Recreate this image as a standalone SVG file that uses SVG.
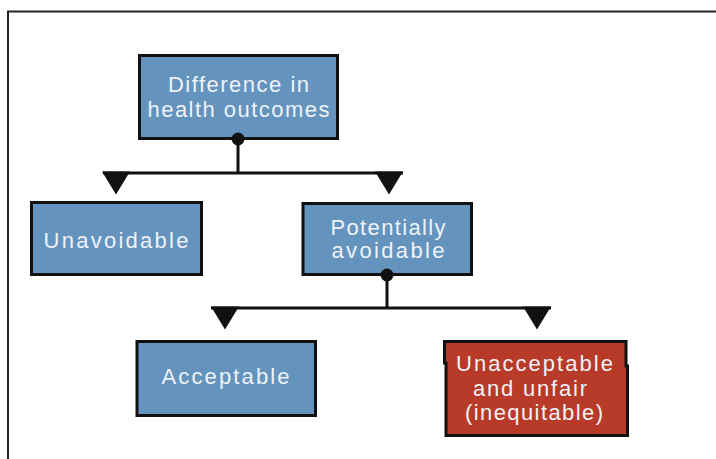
<svg xmlns="http://www.w3.org/2000/svg" width="716" height="459" viewBox="0 0 716 459">
  <style>
    .box { fill: #6494be; stroke: #111; stroke-width: 3; }
    .red { fill: #b83b2a; stroke: #111; stroke-width: 3; }
    .lbl { font-family: "Liberation Sans", Arial, sans-serif; font-size: 22px; fill: #eef2f6; text-anchor: middle; }
    .line { stroke: #111; stroke-width: 3; fill: none; }
    .tri { fill: #111; }
    .dot { fill: #111; }
  </style>
  <defs>
    <polygon id="tri" points="-14,0 14,0 0,23"/>
  </defs>
  <rect width="716" height="459" fill="#fff"/>
  <path d="M716,11.5 H8 V459" fill="none" stroke="#222" stroke-width="2"/>

  <g id="difference">
    <rect class="box" x="139.5" y="55.5" width="198" height="83"/>
    <text class="lbl" x="238.5" y="92" textLength="141" lengthAdjust="spacing">Difference in</text>
    <text class="lbl" x="238.5" y="117" textLength="182" lengthAdjust="spacing">health outcomes</text>
  </g>

  <g id="unavoidable">
    <rect class="box" x="31.5" y="202.5" width="170" height="72"/>
    <text class="lbl" x="116" y="248" textLength="145" lengthAdjust="spacing">Unavoidable</text>
  </g>

  <g id="potentially">
    <rect class="box" x="303" y="203.5" width="168.5" height="71"/>
    <text class="lbl" x="388" y="235" textLength="115" lengthAdjust="spacing">Potentially</text>
    <text class="lbl" x="388" y="258" textLength="113" lengthAdjust="spacing">avoidable</text>
  </g>

  <g id="acceptable">
    <rect class="box" x="137" y="341.5" width="178.5" height="74"/>
    <text class="lbl" x="225.5" y="384" textLength="128" lengthAdjust="spacing">Acceptable</text>
  </g>

  <g id="unacceptable">
    <path class="red" d="M444.5,341.5 H626 V366 H627.5 V435.5 H446 V363 H444.5 Z"/>
    <text class="lbl" x="534.5" y="371" textLength="157" lengthAdjust="spacing">Unacceptable</text>
    <text class="lbl" x="530" y="396" textLength="114" lengthAdjust="spacing">and unfair</text>
    <text class="lbl" x="534" y="420" textLength="138" lengthAdjust="spacing">(inequitable)</text>
  </g>

  <g id="connectors">
    <path class="line" d="M238,139 V173"/>
    <path class="line" d="M103,173 H403"/>
    <use href="#tri" class="tri" x="116" y="171.5"/>
    <use href="#tri" class="tri" x="389" y="171.5"/>
    <circle class="dot" cx="238" cy="139" r="6.5"/>
    <path class="line" d="M387,276 V308"/>
    <path class="line" d="M211,308 H551"/>
    <use href="#tri" class="tri" x="225" y="306.5"/>
    <use href="#tri" class="tri" x="537" y="306.5"/>
    <circle class="dot" cx="387" cy="275" r="6.5"/>
  </g>
</svg>
